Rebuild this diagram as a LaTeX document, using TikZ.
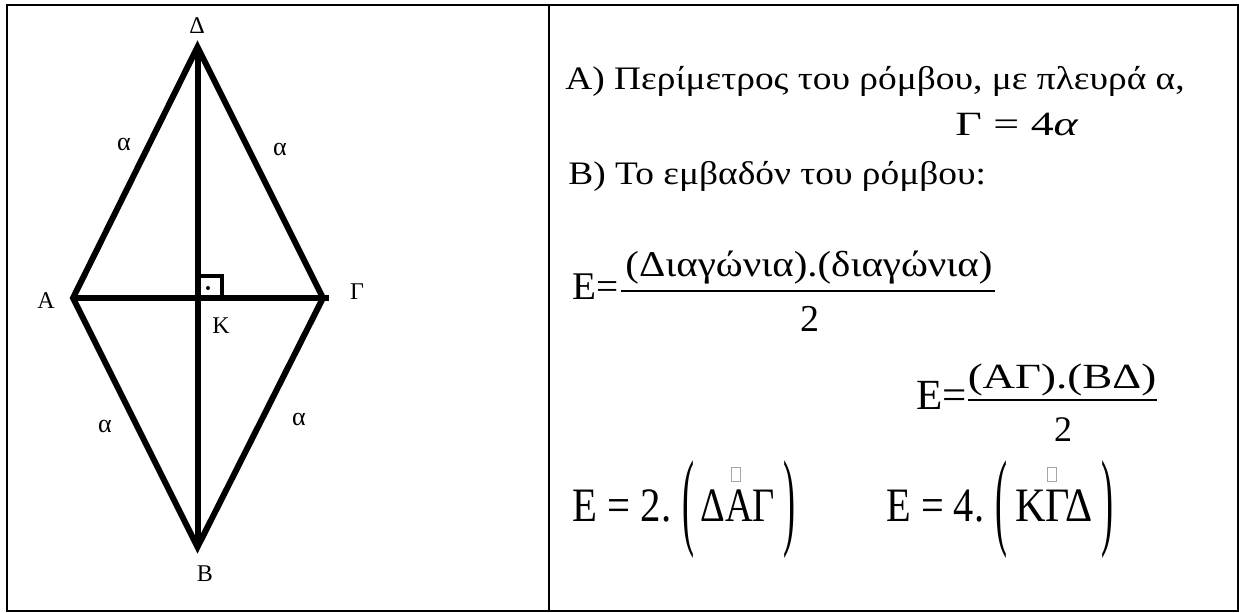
\documentclass[tikz,border=0pt]{standalone}
\usepackage{fontspec}
\setmainfont{Liberation Serif}
\usepackage{graphicx}
\usetikzlibrary{calc}

\newcommand{\hs}[2]{\scalebox{#1}[1]{#2}}
\newcommand{\tallparen}[1]{\scalebox{1}[3]{#1}}

\begin{document}
\begin{tikzpicture}[x=0.5pt,y=-0.5pt,
    side/.style={line width=3pt},
    lbl/.style={inner sep=0pt,font=\fontsize{12}{14}\selectfont},
    txt/.style={anchor=base west,inner sep=0pt,font=\fontsize{16.4}{19}\selectfont},
    eq/.style={anchor=base west,inner sep=0pt,font=\fontsize{24}{28}\selectfont},
    par/.style={inner sep=0pt,font=\fontsize{18}{21}\selectfont},
    fr/.style={anchor=base,inner sep=0pt},
    tofu/.style={draw=gray!70,line width=0.4pt}]
    \useasboundingbox (0,0) rectangle (1239,613);

    % Table
    \draw[line width=1pt] (7,5) rectangle (1238,611);
    \draw[line width=1pt] (549,5) -- (549,611);

    % Rhombus
    \coordinate (D) at (197.5,47);
    \coordinate (A) at (73,298);
    \coordinate (G) at (323,298);
    \coordinate (B) at (197.5,547);
    \coordinate (K) at (197.5,298);
    \coordinate (Gtail) at (329,298);
    \draw[side] (A) -- (D) -- (G) -- (B) -- cycle;
    \draw[side] (A) -- (Gtail);
    \draw[side] (D) -- (B);
    \draw[line width=2pt] (K) -- ++(0,-22) -- ++(24.5,0) -- ++(0,22);
    \fill (208,288) circle (2);

    \node[lbl] (lD) at (197,26) {Δ};
    \node[lbl] (lA) at (46,301) {Α};
    \node[lbl] (lG) at (357,292) {Γ};
    \node[lbl] (lK) at (221,326) {Κ};
    \node[lbl] (lB) at (205,574) {Β};
    \foreach \p in {(124,145),(280,150),(105,427),(299,420)}
      \node[lbl,font=\fontsize{13}{15}\selectfont] at \p {α};

    % Text
    \node[txt] (pA) at (565,90) {\hs{1.14}{Α) Περίμετρος του ρόμβου, με πλευρά α,}};
    \node[txt,font=\fontsize{17}{20}\selectfont] (per) at (955,136) {\hs{1.35}{Γ = 4\textit{α}}};
    \node[txt] (pB) at (568,185) {\hs{1.14}{Β) Το εμβαδόν του ρόμβου:}};

    % Area 1
    \node[txt,font=\fontsize{19.6}{23}\selectfont] (E1) at (572,300) {Ε=};
    \node[fr,font=\fontsize{18.1}{21}\selectfont] (n1) at (809,277) {\hs{1.13}{(Διαγώνια).(διαγώνια)}};
    \draw[line width=1pt] (621,291) -- (995,291);
    \node[fr,font=\fontsize{19}{22}\selectfont] (d1) at (810,332) {2};

    % Area 2
    \node[txt,font=\fontsize{21.5}{25}\selectfont] (E2) at (916,410) {Ε=};
    \node[fr,font=\fontsize{17.7}{21}\selectfont] (n2) at (1062,389) {\hs{1.27}{(ΑΓ).(ΒΔ)}};
    \draw[line width=1pt] (968,400) -- (1157,400);
    \node[fr,font=\fontsize{18}{21}\selectfont] (d2) at (1063,442) {2};

    % Area 3
    \node[eq] (E3) at (572,522) {\hs{0.85}{Ε = 2.}};
    \node[eq] (t3) at (700,522) {\hs{0.8}{ΔΑΓ}};
    \node[par] (o3) at (688,510) {\tallparen{(}};
    \node[par] (c3) at (789,510) {\tallparen{)}};
    \draw[tofu] (731,467) rectangle (740,481);

    \node[eq] (E4) at (886,522) {\hs{0.84}{Ε = 4.}};
    \node[eq] (t4) at (1015,522) {\hs{0.88}{ΚΓΔ}};
    \node[par] (o4) at (1001,510) {\tallparen{(}};
    \node[par] (c4) at (1107,510) {\tallparen{)}};
    \draw[tofu] (1047,467) rectangle (1056,481);
\end{tikzpicture}
\end{document}
